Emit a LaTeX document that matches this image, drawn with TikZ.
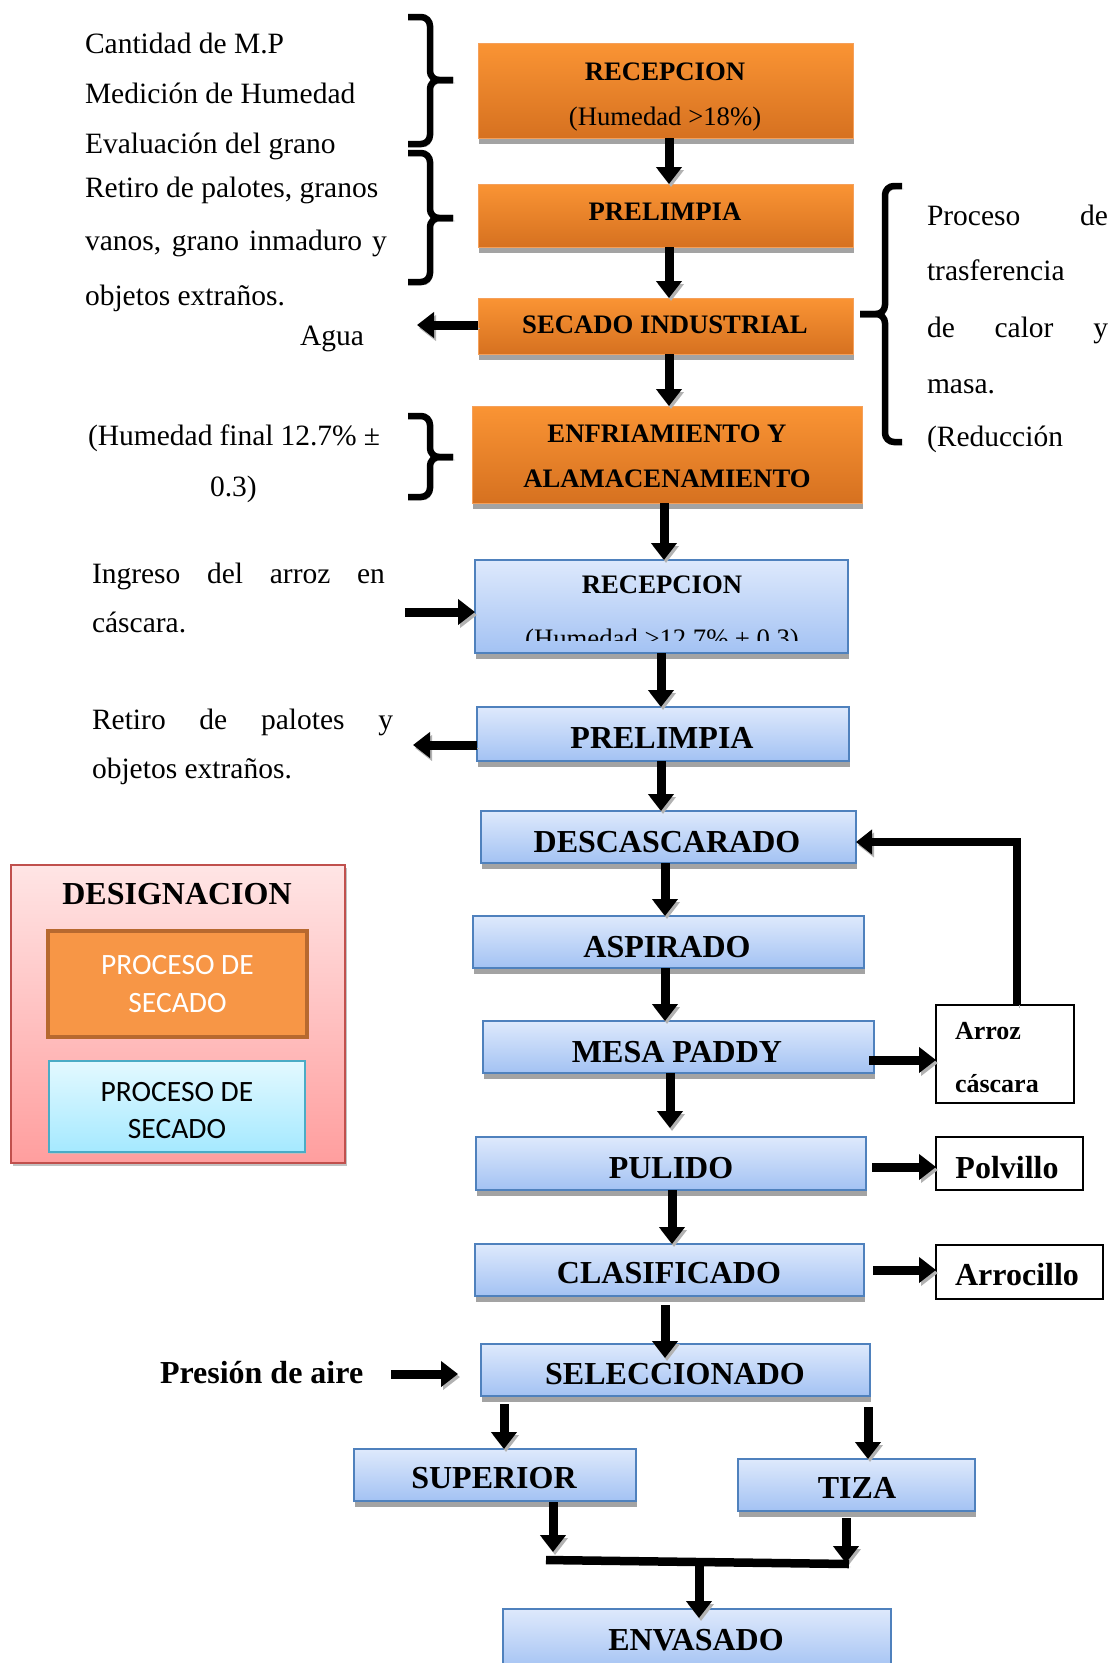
\documentclass[tikz,border=0pt]{standalone}
\usepackage{fontspec}
\setmainfont{Liberation Serif}
\newfontfamily\calib{Carlito}
\usetikzlibrary{arrows.meta,shadows,calc}
\definecolor{orTop}{RGB}{250,148,52}
\definecolor{orBot}{RGB}{214,113,32}
\definecolor{orLine}{RGB}{245,160,90}
\definecolor{blTop}{RGB}{222,233,252}
\definecolor{blBot}{RGB}{163,194,243}
\definecolor{blLine}{RGB}{79,129,189}
\definecolor{lgTop}{RGB}{255,229,229}
\definecolor{lgBot}{RGB}{255,158,158}
\definecolor{lgLine}{RGB}{192,80,77}
\definecolor{loFill}{RGB}{247,150,70}
\definecolor{loLine}{RGB}{183,105,47}
\definecolor{lcTop}{RGB}{227,249,255}
\definecolor{lcBot}{RGB}{165,233,255}
\definecolor{lcLine}{RGB}{75,172,198}
\newcommand\sidetxt{\fontsize{29.5}{50}\selectfont}
\newcommand\obold{\bfseries\fontsize{26.7}{30}\selectfont}
\newcommand\bbold{\bfseries\fontsize{32}{36}\selectfont}
\begin{document}
\begin{tikzpicture}[x=1pt,y=-1pt,
  boxbase/.style={rectangle,inner sep=0pt,outer sep=0pt},
  obox/.style={boxbase,top color=orTop,bottom color=orBot,draw=orLine,line width=1pt,
    drop shadow={shadow xshift=1pt,shadow yshift=-6pt,fill=black!40,opacity=0.9}},
  bbox/.style={boxbase,top color=blTop,bottom color=blBot,draw=blLine,line width=1.5pt,
    drop shadow={shadow xshift=1pt,shadow yshift=-6pt,fill=black!40,opacity=0.9}},
  wbox/.style={boxbase,draw=black,line width=1.5pt,fill=white},
  lbl/.style={inner sep=0pt,outer sep=0pt,anchor=base},
  lblw/.style={inner sep=0pt,outer sep=0pt,anchor=base west},
  shd/.style={preaction={draw=black!30,transform canvas={xshift=2pt,yshift=-3pt}}},
  arr/.style={shd,line width=9pt,-{Triangle[width=25pt,length=17pt]}},
  arrthin/.style={shd,line width=8pt,-{Triangle[width=24pt,length=16pt]}},
  bracepath/.style={shd,line width=6.5pt,rounded corners=9pt,line cap=butt}]
\useasboundingbox (0,0) rectangle (1113,1663);

% ---------- left / right side texts ----------
\node[lblw] (t1) at (85,53) {\sidetxt Cantidad de M.P};
\node[lblw] (t2) at (85,103) {\sidetxt Medición de Humedad};
\node[lblw] (t3) at (85,153) {\sidetxt Evaluación del grano};
\node[lblw] (t4) at (85,197) {\sidetxt Retiro de palotes, granos};
\node[lblw] (t5) at (85,250) {\sidetxt\makebox[302pt][s]{vanos, grano inmaduro y}};
\node[lblw] (t6) at (85,305) {\sidetxt objetos extraños.};
\node[lblw] (agua) at (300,345) {\sidetxt Agua};
\node[lblw] (t7) at (88,445) {\sidetxt\makebox[292pt][s]{(Humedad final 12.7\% ±}};
\node[lblw] (t8) at (210,496) {\sidetxt 0.3)};

\node[lblw] (q1) at (927,225) {\sidetxt\makebox[181pt][s]{Proceso de}};
\node[lblw] (q2) at (927,280) {\sidetxt trasferencia};
\node[lblw] (q3) at (927,337) {\sidetxt\makebox[181pt][s]{de calor y}};
\node[lblw] (q4) at (927,393) {\sidetxt masa.};
\node[lblw] (q5) at (927,446) {\sidetxt (Reducción};

\node[lblw] (i1) at (92,583) {\sidetxt\makebox[293pt][s]{Ingreso del arroz en}};
\node[lblw] (i2) at (92,632) {\sidetxt cáscara.};
\node[lblw] (k1) at (92,729) {\sidetxt\makebox[301pt][s]{Retiro de palotes y}};
\node[lblw] (k2) at (92,778) {\sidetxt objetos extraños.};

% ---------- braces ----------
\draw[bracepath] (408,17) -- (430,17) -- (430,80) -- (453,80);
\draw[bracepath] (408,144) -- (430,144) -- (430,80) -- (453,80);
\draw[bracepath] (408,153) -- (430,153) -- (430,218) -- (453,218);
\draw[bracepath] (408,282) -- (430,282) -- (430,218) -- (453,218);
\draw[bracepath] (408,416) -- (430,416) -- (430,457) -- (453,457);
\draw[bracepath] (408,497) -- (430,497) -- (430,457) -- (453,457);
\draw[bracepath] (902,186) -- (885,186) -- (885,314) -- (860,314);
\draw[bracepath] (902,442) -- (885,442) -- (885,314) -- (860,314);

% ---------- orange boxes ----------
\node[obox,minimum width=375pt,minimum height=95pt] (r1) at (665.5,90.5) {};
\node[lbl] (r1a) at (665,80) {\obold RECEPCION};
\node[lbl] (r1b) at (665,125) {\fontsize{26.7}{30}\selectfont (Humedad >18\%)};
\node[obox,minimum width=375pt,minimum height=63pt] (p1) at (665.5,215.5) {};
\node[lbl] (p1a) at (665,220) {\obold PRELIMPIA};
\node[obox,minimum width=375pt,minimum height=56pt] (s1) at (665.5,326) {};
\node[lbl] (s1a) at (665,333) {\obold SECADO INDUSTRIAL};
\node[obox,minimum width=390pt,minimum height=97pt] (e1) at (667,454.5) {};
\node[lbl] (e1a) at (667,442) {\obold ENFRIAMIENTO Y};
\node[lbl] (e1b) at (667,487) {\obold ALAMACENAMIENTO};

% ---------- blue boxes ----------
\node[bbox,minimum width=373pt,minimum height=93pt] (r2) at (661.5,606.5) {};
\node[lbl] (r2a) at (662,593) {\obold RECEPCION};
\begin{scope}
  \clip (475,560) rectangle (848,640);
  \node[lbl] (r2b) at (662,647) {\fontsize{26.7}{30}\selectfont (Humedad >12.7\% ± 0.3)};
\end{scope}
\node[bbox,minimum width=372pt,minimum height=54pt] (p2) at (663,734) {};
\node[lbl] (p2a) at (662,748) {\bbold PRELIMPIA};
\node[bbox,minimum width=375pt,minimum height=52pt] (d) at (668.5,837) {};
\node[lbl] (da) at (667,852) {\bbold DESCASCARADO};
\node[bbox,minimum width=391pt,minimum height=52pt] (a) at (668.5,942) {};
\node[lbl] (aa) at (667,957) {\bbold ASPIRADO};
\node[bbox,minimum width=391pt,minimum height=52pt] (m) at (678.5,1047) {};
\node[lbl] (ma) at (677,1062) {\bbold MESA PADDY};
\node[bbox,minimum width=390pt,minimum height=53pt] (pu) at (671,1163.5) {};
\node[lbl] (pua) at (671,1178) {\bbold PULIDO};
\node[bbox,minimum width=389pt,minimum height=52pt] (c) at (669.5,1270) {};
\node[lbl] (ca) at (669,1283) {\bbold CLASIFICADO};
\node[bbox,minimum width=389pt,minimum height=52pt] (se) at (675.5,1370) {};
\node[lbl] (sea) at (675,1384) {\bbold SELECCIONADO};
\node[bbox,minimum width=282pt,minimum height=52pt] (su) at (495,1475) {};
\node[lbl] (sua) at (494,1488) {\bbold SUPERIOR};
\node[bbox,minimum width=237pt,minimum height=52pt] (t) at (856.5,1485) {};
\node[lbl] (ta) at (857,1498) {\bbold TIZA};
\node[bbox,minimum width=388pt,minimum height=62pt] (en) at (697,1640) {};
\node[lbl] (ena) at (696,1650) {\bbold ENVASADO};

% ---------- white boxes ----------
\node[wbox,minimum width=138pt,minimum height=98pt] (ac) at (1005,1054) {};
\node[lblw] (aca) at (955,1039) {\bfseries\fontsize{26}{30}\selectfont Arroz};
\node[lblw] (acb) at (955,1092) {\bfseries\fontsize{26}{30}\selectfont cáscara};
\node[wbox,minimum width=147pt,minimum height=53pt] (pv) at (1009.5,1163.5) {};
\node[lbl] (pva) at (1007,1178) {\bbold Polvillo};
\node[wbox,minimum width=167pt,minimum height=54pt] (ar) at (1019.5,1272) {};
\node[lbl] (ara) at (1017,1285) {\bbold Arrocillo};

\node[lblw] (pres) at (160,1383) {\bfseries\fontsize{32}{36}\selectfont Presión de aire};

% ---------- legend ----------
\node[boxbase,top color=lgTop,bottom color=lgBot,draw=lgLine,line width=1.5pt,
  minimum width=334pt,minimum height=298pt,
  drop shadow={shadow xshift=2pt,shadow yshift=-3pt,fill=black!30,opacity=0.8}] (lg) at (178,1014) {};
\node[lbl] (lga) at (177,904) {\bbold DESIGNACION};
\node[boxbase,fill=loFill,draw=loLine,line width=4pt,minimum width=259pt,minimum height=106pt] (lo) at (177.5,984) {};
\node[lbl,text=white] (loa) at (177.5,974) {\calib\fontsize{29.5}{32}\selectfont PROCESO DE};
\node[lbl,text=white] (lob) at (177.5,1012) {\calib\fontsize{29.5}{32}\selectfont SECADO};
\node[boxbase,top color=lcTop,bottom color=lcBot,draw=lcLine,line width=1.5pt,minimum width=256pt,minimum height=91pt,
  drop shadow={shadow xshift=1pt,shadow yshift=-2pt,fill=black!25,opacity=0.8}] (lc) at (177,1106.5) {};
\node[lbl] (lca) at (177,1101) {\calib\fontsize{29.5}{32}\selectfont PROCESO DE};
\node[lbl] (lcb) at (177,1138) {\calib\fontsize{29.5}{32}\selectfont SECADO};

% ---------- connectors ----------
\coordinate (aguaTip) at (417,325);
\coordinate (ingStart) at (405,612);
\coordinate (retTip) at (413,745);
\coordinate (presStart) at (391,1374);
\coordinate (barL) at (546,1560);
\coordinate (barR) at (849,1564);
\coordinate (barM) at (699,1565);

\draw[arr] ([xshift=3.5pt]r1.south) -- ([xshift=3.5pt]p1.north);
\draw[arr] ([xshift=3.5pt]p1.south) -- ([xshift=3.5pt]s1.north);
\draw[arr] ([xshift=3.5pt]s1.south) -- ([xshift=2pt]e1.north);
\draw[arr] ([yshift=1pt]s1.west) -- (aguaTip);
\draw[arr] ([xshift=-3pt]e1.south) -- ([xshift=2.5pt]r2.north);
\draw[arr] (ingStart) -- ([yshift=-5.5pt]r2.west);
\draw[arr] ([xshift=-0.5pt]r2.south) -- ([xshift=-2pt]p2.north);
\draw[arr] ([yshift=-11pt]p2.west) -- (retTip);
\draw[arr] ([xshift=-2pt]p2.south) -- ([xshift=-7.5pt]d.north);
\draw[arr] ([xshift=-3.5pt]d.south) -- ([xshift=-3.5pt]a.north);
\draw[arr] ([xshift=-3.5pt]a.south) -- ([xshift=-13.5pt]m.north);
\draw[arr] ([xshift=-8.5pt]m.south) -- ([xshift=-1pt,yshift=9pt]pu.north);
\draw[arr] ([xshift=-5pt,yshift=-13pt]m.east) -- ([yshift=-6pt]ac.west);
\draw[arrthin] ([xshift=12pt]ac.north) |- ([yshift=-5pt]d.east);
\draw[arr] ([xshift=6pt,yshift=-3.5pt]pu.east) -- ([yshift=-3.5pt]pv.west);
\draw[arr] ([xshift=1pt]pu.south) -- ([xshift=2.5pt]c.north);
\draw[arr] ([xshift=9pt]c.east) -- ([yshift=2pt]ar.west);
\draw[arr] ([xshift=-4.5pt,yshift=-9pt]c.south) -- ([xshift=-10.5pt,yshift=-14pt]se.north);
\draw[arr] (presStart) -- ([xshift=-23pt,yshift=-4pt]se.west);
\draw[arr] ([xshift=-171.5pt,yshift=-8pt]se.south) -- ([xshift=9pt]su.north);
\draw[arr] ([xshift=192.5pt,yshift=-11pt]se.south) -- ([xshift=11.5pt]t.north);
\draw[arr] ([xshift=58pt,yshift=-1pt]su.south) -- ([xshift=7pt,yshift=8pt]barL);
\draw[arr] ([xshift=-10.5pt,yshift=-7pt]t.south) -- ([xshift=-3pt,yshift=1pt]barR);
\draw[shd,line width=8.5pt] (barL) -- (barR);
\draw[arr] (barM) -- ([xshift=2pt,yshift=-9pt]en.north);
\end{tikzpicture}
\end{document}
